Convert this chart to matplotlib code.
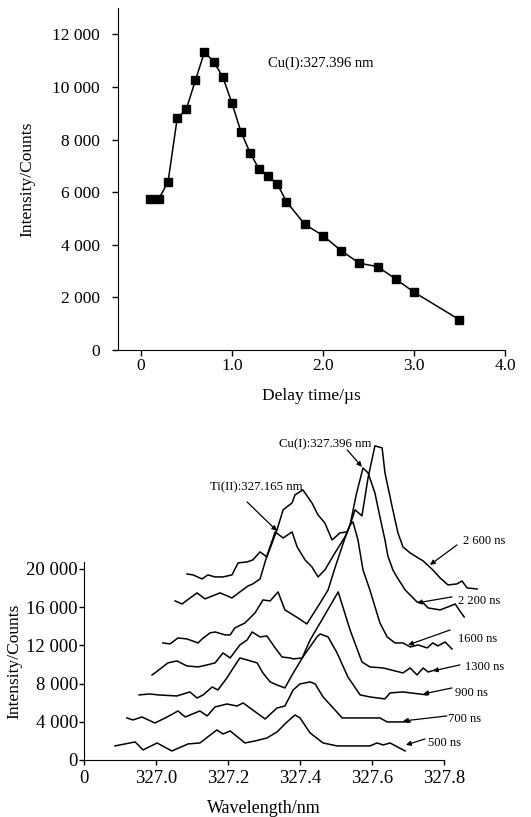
import matplotlib
matplotlib.use("Agg")
import matplotlib.pyplot as plt

plt.rcParams['font.family'] = ['Liberation Serif', 'DejaVu Serif']

# ---- top panel: Cu(I) 327.396 nm line intensity vs delay time
delay_us = [0.1, 0.2, 0.3, 0.4, 0.5, 0.6, 0.7, 0.8, 0.9, 1.0, 1.1, 1.2,
            1.3, 1.4, 1.5, 1.6, 1.8, 2.0, 2.2, 2.4, 2.6, 2.8, 3.0, 3.5]
cu_counts = [5750, 5750, 6400, 8800, 9150, 10250, 11330, 10960, 10390, 9400,
             8300, 7500, 6870, 6600, 6310, 5640, 4780, 4350, 3780, 3300,
             3170, 2700, 2200, 1150]

top_xticks = [0, 1, 2, 3, 4]
top_xlabels = ['0', '1.0', '2.0', '3.0', '4.0']
top_yticks = [0, 2000, 4000, 6000, 8000, 10000, 12000]
top_ylabels = ['0', '2 000', '4 000', '6 000', '8 000', '10 000', '12 000']

# ---- bottom panel: spectra at several delays (waterfall, as plotted)
wl_500 = [326.886, 326.942, 326.964, 327.003, 327.044, 327.089, 327.122, 327.169,
          327.186, 327.206, 327.247, 327.275, 327.308, 327.336, 327.364, 327.386,
          327.400, 327.428, 327.464, 327.503, 327.594, 327.614, 327.631, 327.650,
          327.692]
cnt_500 = [1470, 1890, 1050, 1780, 940, 1680, 1780, 3140, 2720, 3040, 1780, 1990,
           2300, 2930, 3980, 4710, 4400, 2830, 1780, 1470, 1470, 1780, 1570, 1780,
           940]

wl_700 = [326.919, 326.936, 326.961, 326.997, 327.031, 327.061, 327.081, 327.122,
          327.142, 327.164, 327.197, 327.225, 327.242, 327.303, 327.336, 327.358,
          327.381, 327.400, 327.428, 327.442, 327.464, 327.497, 327.517, 327.594,
          327.622, 327.642, 327.669, 327.706]
cnt_700 = [4400, 4190, 4500, 3870, 4500, 5130, 4500, 5130, 4610, 5550, 5860, 5650,
           5970, 4290, 5440, 5650, 7330, 7960, 8170, 7960, 6600, 5240, 4400, 4400,
           4400, 3980, 3980, 3980]

wl_900 = [326.953, 326.983, 327.006, 327.058, 327.094, 327.114, 327.131, 327.156,
          327.172, 327.197, 327.211, 327.233, 327.253, 327.281, 327.297, 327.317,
          327.336, 327.358, 327.378, 327.408, 327.447, 327.456, 327.478, 327.503,
          327.533, 327.567, 327.594, 327.636, 327.650, 327.686, 327.753]
cnt_900 = [6810, 6910, 6810, 6700, 7120, 6490, 6810, 7640, 7330, 8590, 9420, 10680,
           10470, 10160, 9110, 8170, 7850, 7540, 8900, 10780, 12880, 13190, 12880,
           11200, 8690, 6810, 6600, 6390, 7020, 7120, 6810]

wl_1300 = [326.989, 326.997, 327.033, 327.058, 327.086, 327.117, 327.142, 327.164,
           327.186, 327.206, 327.233, 327.253, 327.267, 327.289, 327.308, 327.331,
           327.350, 327.372, 327.381, 327.406, 327.428, 327.464, 327.506, 327.539,
           327.572, 327.594, 327.631, 327.686, 327.706, 327.725, 327.742, 327.756,
           327.775]
cnt_1300 = [8900, 9110, 10160, 10370, 9840, 9740, 9950, 10160, 11200, 10680, 12040,
            12560, 13400, 12880, 12980, 11730, 10780, 10680, 10580, 10680, 12560,
            14870, 17590, 13610, 10260, 9740, 9630, 9110, 9630, 8900, 9630, 9210,
            9420]

wl_1600 = [327.019, 327.039, 327.061, 327.086, 327.117, 327.128, 327.150, 327.164,
           327.192, 327.206, 327.219, 327.247, 327.275, 327.297, 327.317, 327.339,
           327.358, 327.394, 327.419, 327.456, 327.478, 327.497, 327.511, 327.525,
           327.539, 327.547, 327.561, 327.575, 327.594, 327.622, 327.642, 327.664,
           327.686, 327.706, 327.728, 327.753, 327.769, 327.783, 327.803, 327.822]
cnt_1600 = [12250, 12150, 12770, 12670, 12250, 12670, 13300, 13400, 13090, 13090,
            13820, 14340, 15390, 16750, 16650, 17590, 15710, 14870, 14240, 16440,
            17800, 20100, 21670, 23240, 24600, 24920, 23030, 19890, 17800, 14340,
            12880, 12250, 12250, 11830, 12040, 11730, 12250, 11940, 12350, 11620]

wl_2200 = [327.053, 327.072, 327.114, 327.136, 327.150, 327.178, 327.211, 327.233,
           327.256, 327.269, 327.289, 327.308, 327.331, 327.353, 327.378, 327.392,
           327.414, 327.433, 327.450, 327.469, 327.497, 327.525, 327.539, 327.556,
           327.575, 327.589, 327.608, 327.622, 327.636, 327.644, 327.658, 327.669,
           327.692, 327.725, 327.742, 327.756, 327.789, 327.811, 327.831, 327.844,
           327.856]
cnt_2200 = [16650, 16330, 17490, 16860, 17070, 17490, 16960, 17590, 18220, 18430,
            18950, 21360, 23870, 23240, 23870, 22300, 20940, 20210, 19160, 19890,
            21670, 23350, 24600, 27750, 30570, 30050, 27960, 25440, 23030, 21360,
            19890, 19160, 17800, 16540, 16440, 15910, 15710, 16020, 16330, 15600,
            14970]

wl_2600 = [327.086, 327.103, 327.128, 327.144, 327.164, 327.186, 327.211, 327.228,
           327.253, 327.269, 327.289, 327.308, 327.336, 327.353, 327.378, 327.386,
           327.408, 327.433, 327.450, 327.469, 327.489, 327.511, 327.531, 327.539,
           327.553, 327.572, 327.589, 327.608, 327.628, 327.636, 327.656, 327.672,
           327.686, 327.706, 327.728, 327.742, 327.769, 327.789, 327.811, 327.836,
           327.850, 327.864, 327.892]
cnt_2600 = [19470, 19370, 18950, 19370, 19160, 19160, 19370, 20630, 20730, 20940,
            21780, 21250, 24080, 26180, 26910, 27750, 28270, 26910, 25650, 24810,
            23030, 23770, 23870, 24600, 26180, 25550, 29530, 32880, 32670, 30050,
            26490, 23770, 22300, 21670, 21150, 20840, 19890, 19060, 18320, 18430,
            18740, 18010, 17900]

spectra = [(wl_500, cnt_500), (wl_700, cnt_700), (wl_900, cnt_900),
           (wl_1300, cnt_1300), (wl_1600, cnt_1600), (wl_2200, cnt_2200),
           (wl_2600, cnt_2600)]
delay_labels = ['500 ns', '700 ns', '900 ns', '1300 ns', '1600 ns', '2 200 ns', '2 600 ns']

bot_xticks = [326.8, 327.0, 327.2, 327.4, 327.6, 327.8]
bot_xlabels = ['0', '327.0', '327.2', '327.4', '327.6', '327.8']
bot_yticks = [0, 4000, 8000, 12000, 16000, 20000]
bot_ylabels = ['0', '4 000', '8 000', '12 000', '16 000', '20 000']

# label text position, arrow tail, arrow head (data coords of the bottom axes)
label_pos = [(327.756, 1780), (327.811, 4290), (327.831, 7010), (327.858, 9740),
             (327.839, 12670), (327.839, 16650), (327.853, 22930)]
arrow_tail = [(327.747, 2200), (327.808, 4610), (327.822, 7540), (327.844, 9950),
              (327.817, 13610), (327.822, 17070), (327.836, 22510)]
arrow_head = [(327.694, 1570), (327.686, 4080), (327.742, 6910), (327.769, 9320),
              (327.700, 12040), (327.725, 16440), (327.761, 20420)]


fig = plt.figure(figsize=(5.31, 8.17), dpi=100)

# top
ax1 = fig.add_axes([0.2222, 0.5716, 0.7288, 0.4186])
ax1.plot(delay_us, cu_counts, color='black', lw=1.1, marker='s', ms=5.4,
         mfc='black', mec='black')
ax1.set_xlim(-0.25, 4.0)
ax1.set_ylim(0, 13000)
ax1.set_xticks(top_xticks)
ax1.set_xticklabels(top_xlabels)
ax1.set_yticks(top_yticks)
ax1.set_yticklabels(top_ylabels)
ax1.spines['top'].set_visible(False)
ax1.spines['right'].set_visible(False)
ax1.tick_params(direction='out', length=4, width=1, labelsize=12.5)
ax1.tick_params(axis='x', pad=2)
ax1.tick_params(axis='y', pad=9)
ax1.set_xlabel('Delay time/µs', fontsize=12.5, labelpad=10)
ax1.set_ylabel('Intensity/Counts', fontsize=12.5, labelpad=12)
ax1.text(1.40, 10900, 'Cu(I):327.396 nm', fontsize=10.5, va='center', ha='left')

# bottom
ax2 = fig.add_axes([0.1582, 0.0698, 0.678, 0.2424])
for wl, cnt in spectra:
    ax2.plot(wl, cnt, color='black', lw=1.1, clip_on=False)
ax2.set_xlim(326.8, 327.8)
ax2.set_ylim(0, 20730)
ax2.set_xticks(bot_xticks)
ax2.set_xticklabels(bot_xlabels)
ax2.set_yticks(bot_yticks)
ax2.set_yticklabels(bot_ylabels)
ax2.spines['top'].set_visible(False)
ax2.spines['right'].set_visible(False)
ax2.tick_params(direction='out', length=3.5, width=1, labelsize=13.5)
ax2.tick_params(axis='x', pad=4)
ax2.tick_params(axis='y', pad=1)
ax2.set_xlabel('Wavelength/nm', fontsize=13, labelpad=9)
ax2.set_ylabel('Intensity/Counts', fontsize=12.5, labelpad=3)

aprops = dict(arrowstyle='-|>', color='black', lw=0.9, mutation_scale=7,
              shrinkA=0, shrinkB=0)
for lab, tp, tail, head in zip(delay_labels, label_pos, arrow_tail, arrow_head):
    ax2.annotate('', xy=head, xytext=tail, arrowprops=aprops, annotation_clip=False)
    ax2.text(tp[0], tp[1], lab, fontsize=9, va='center', ha='left', clip_on=False)

ax2.text(327.342, 33080, 'Cu(I):327.396 nm', fontsize=9.3, va='center', ha='left',
         clip_on=False)
ax2.annotate('', xy=(327.572, 30680), xytext=(327.531, 32460), arrowprops=aprops,
             annotation_clip=False)
ax2.text(327.150, 28580, 'Ti(II):327.165 nm', fontsize=9.3, va='center', ha='left',
         clip_on=False)
ax2.annotate('', xy=(327.336, 23980), xytext=(327.253, 27010), arrowprops=aprops,
             annotation_clip=False)

fig.savefig('out.png', dpi=100)
